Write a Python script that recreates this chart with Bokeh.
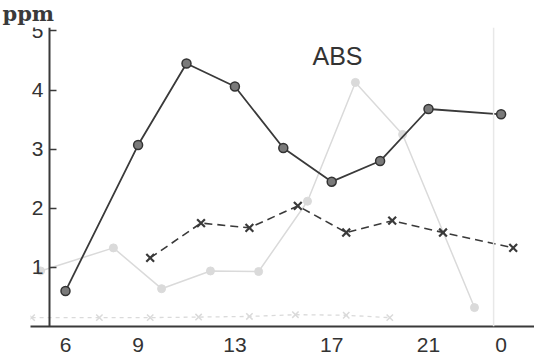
from bokeh.plotting import figure
from bokeh.models import Range1d, Label, FixedTicker, Span
from bokeh.embed import file_html
from bokeh.resources import INLINE

# ABS series (solid line with dots), hour of day vs ppm
abs_hours = [6, 9, 11, 13, 15, 17, 19, 21, 24]
abs_ppm = [0.60, 3.07, 4.45, 4.06, 3.02, 2.45, 2.80, 3.68, 3.59]

# second series (dashed line with crosses)
x_hours = [9.5, 11.6, 13.6, 15.6, 17.6, 19.5, 21.6, 24.5]
x_ppm = [1.16, 1.75, 1.67, 2.04, 1.59, 1.79, 1.59, 1.33]

# faint show-through from the reverse page
ghost_hours = [4.97, 7.98, 9.97, 11.99, 13.98, 16.0, 17.98, 19.93, 22.9]
ghost_vals = [0.94, 1.33, 0.64, 0.94, 0.93, 2.12, 4.13, 3.25, 0.32]
ghost_x_hours = [4.6, 7.4, 9.5, 11.5, 13.6, 15.5, 17.6, 19.4]
ghost_x_vals = [0.15, 0.15, 0.15, 0.16, 0.17, 0.2, 0.19, 0.15]

x_ticks = [6, 9, 13, 17, 21, 24]
x_tick_labels = {6: "6", 9: "9", 13: "13", 17: "17", 21: "21", 24: "0"}
y_ticks = [1, 2, 3, 4, 5]

p = figure(width=534, height=356, output_backend="svg", toolbar_location=None,
           x_range=Range1d(4.554, 25.38), y_range=Range1d(0, 5.059),
           min_border_left=30, min_border_right=0, min_border_top=26, min_border_bottom=30)
p.outline_line_color = None
p.grid.visible = False
p.background_fill_color = "white"
p.border_fill_color = "white"

# unit label "ppm" at the top-left, as the plot title
p.title.text = "ppm"
p.title.align = "left"
p.title.offset = -28
p.title.standoff = 0
p.title.vertical_align = "top"
p.title.text_font = "DejaVu Serif"
p.title.text_font_size = "21px"
p.title.text_font_style = "bold"
p.title.text_color = "#3a3a3a"

ink = "#3a3a3a"
ghost = "#dadada"

# faint show-through
p.add_layout(Span(location=23.69, dimension="height", line_color="#e8e8e8", line_width=1.5))
p.line(ghost_hours, ghost_vals, line_color=ghost, line_width=1.5)
p.scatter(ghost_hours, ghost_vals, size=8, fill_color=ghost, line_color=ghost)
p.line(ghost_x_hours, ghost_x_vals, line_color=ghost, line_width=1.3, line_dash="4 4")
p.scatter(ghost_x_hours, ghost_x_vals, marker="x", size=9, line_color=ghost, line_width=1.5)

# main series
p.line(x_hours, x_ppm, line_color=ink, line_width=1.6, line_dash="8 5")
p.scatter(x_hours, x_ppm, marker="x", size=11, line_color=ink, line_width=2.2)
p.line(abs_hours, abs_ppm, line_color=ink, line_width=1.8)
p.scatter(abs_hours, abs_ppm, size=9, fill_color="#7a7a7a", line_color="#333333", line_width=1.5)

# axes
xa = p.xaxis[0]
xa.ticker = FixedTicker(ticks=x_ticks)
xa.major_label_overrides = x_tick_labels
xa.major_tick_line_color = None
xa.minor_tick_line_color = None
xa.axis_line_color = ink
xa.axis_line_width = 2
xa.major_label_text_font = "Liberation Sans"
xa.major_label_text_font_size = "21px"
xa.major_label_text_color = "#333333"
xa.major_label_standoff = 5

ya = p.yaxis[0]
ya.ticker = FixedTicker(ticks=y_ticks)
ya.fixed_location = 5.34
ya.bounds = (0, 5.059)
ya.major_tick_in = 7
ya.major_tick_out = 0
ya.major_tick_line_color = ink
ya.major_tick_line_width = 1.5
ya.minor_tick_line_color = None
ya.axis_line_color = ink
ya.axis_line_width = 2
ya.major_label_text_font = "Liberation Sans"
ya.major_label_text_font_size = "21px"
ya.major_label_text_color = "#333333"
ya.major_label_standoff = 6

p.add_layout(Label(x=17.24, y=4.57, text="ABS", text_align="center", text_baseline="alphabetic",
                   text_font="Liberation Sans", text_font_size="25px", text_color="#333333"))

open("out.html", "w").write(file_html(p, INLINE))
